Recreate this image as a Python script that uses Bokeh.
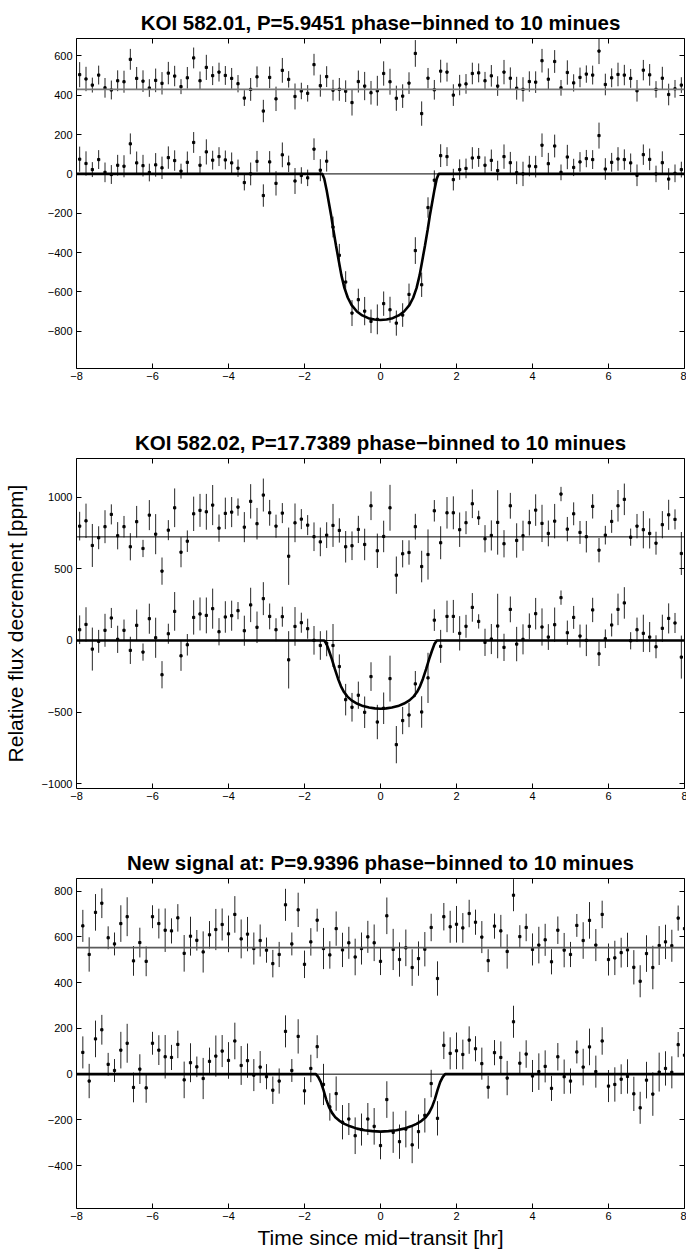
import numpy as np
from bokeh.plotting import figure
from bokeh.models import Range1d, LinearAxis, FixedTicker, Span, ColumnDataSource
from bokeh.layouts import column
from bokeh.embed import file_html
from bokeh.resources import INLINE

FONT = "Liberation Sans"
BIN_HR = 10.0 / 60.0  # 10-minute phase bins

# ---------------- Panel 1: KOI 582.01 ----------------
title1 = "KOI 582.01, P=5.9451 phase\u2212binned to 10 minues"
start1 = -8 + BIN_HR / 2
flux1 = [75, 53, 22, 73, 8, -3, 44, 39, 153, 56,
         42, 7, 46, 31, 83, 68, 14, 59, 160, 44,
         112, 70, 88, 71, 56, 29, -44, 0, 64, -110,
         61, -48, 97, 51, -36, -8, -20, 126, 19, 65,
         -270, -414, -550, -708, -640, -698, -750, -740, -660, -691,
         -759, -718, -613, -390, -564, -171, -32, 93, 88, -29,
         22, 28, 81, 84, 44, 69, 17, 88, 57, 6,
         0, 40, 37, 146, 52, 142, 8, 86, 33, 61,
         78, 73, 195, 25, 59, 76, 73, 56, -7, 98,
         74, 0, 57, -26, 3, 22]
err1 = [64, 62, 38, 48, 50, 48, 53, 56, 53, 58,
        55, 45, 60, 57, 57, 52, 38, 55, 53, 47,
        64, 48, 48, 48, 53, 44, 40, 58, 53, 57,
        55, 62, 63, 42, 66, 42, 42, 55, 56, 53,
        53, 58, 55, 66, 56, 72, 60, 76, 62, 66,
        64, 60, 55, 68, 62, 52, 50, 58, 48, 55,
        52, 50, 55, 48, 45, 55, 50, 62, 55, 58,
        62, 52, 55, 60, 55, 58, 40, 62, 44, 50,
        44, 48, 66, 55, 48, 60, 52, 48, 55, 52,
        55, 42, 58, 55, 45, 40]
resid1_first = 40
resid1_in = [-4, 0, -9, -67, 40, 17, -17, -7, 81, 39, -45, -34, 32, 183, -123, 57, -2]
offset1 = 430
model1_t = [-8, -1.53, -1.48, -1.42, -1.36, -1.30, -1.24, -1.17, -1.10, -1.03, -0.95, -0.86,
            -0.76, -0.62, -0.48, -0.32, -0.16, 0, 0.16, 0.32, 0.48, 0.62, 0.76, 0.86, 0.95,
            1.03, 1.10, 1.17, 1.24, 1.30, 1.36, 1.42, 1.48, 1.53, 8]
model1_f = [0, 0, -25, -80, -145, -210, -285, -365, -440, -515, -580, -630,
            -668, -700, -720, -734, -741, -743, -741, -734, -720, -700, -668, -630, -580,
            -515, -440, -365, -285, -210, -145, -80, -25, 0, 0]
yrange1 = (-990, 689)
yticks1 = [-800, -600, -400, -200, 0, 200, 400, 600]

# ---------------- Panel 2: KOI 582.02 ----------------
title2 = "KOI 582.02, P=17.7389 phase\u2212binned to 10 minues"
start2 = -8 + BIN_HR / 2
flux2 = [75, 112, -60, -6, 71, 157, 8, 71, -69, 106,
         -81, 152, 19, -239, 47, 203, -107, -30, 161, 185,
         175, 222, 61, 164, 173, 208, 68, 248, 92, 292,
         168, 75, 166, -135, 98, 124, 82, 1, -35, -20,
         -35, -182, -413, -466, -382, -501, -252, -569, -473, -266,
         -727, -559, -520, -303, -499, -261, 142, -41, 168, 168,
         50, 99, 231, 133, -13, 10, 101, -48, 217, -25,
         8, 99, 187, 94, 24, 110, 299, 54, 161, 31,
         1, 213, -93, 12, 108, 217, 262, -2, 75, 50,
         24, -44, 85, 154, 122, -116]
err2 = [100, 120, 150, 80, 115, 70, 95, 75, 95, 110,
        60, 105, 140, 95, 70, 135, 105, 75, 120, 115,
        125, 140, 95, 110, 105, 60, 105, 120, 110, 115,
        90, 80, 70, 200, 135, 70, 70, 100, 100, 90,
        150, 85, 110, 100, 95, 110, 100, 120, 110, 160,
        130, 95, 85, 90, 110, 175, 75, 115, 110, 115,
        120, 80, 100, 50, 95, 105, 225, 95, 90, 120,
        105, 90, 110, 130, 90, 120, 50, 85, 80, 80,
        110, 85, 85, 65, 80, 110, 110, 60, 85, 130,
        105, 80, 95, 105, 70, 150]
resid2_first = 39
resid2_in = [12, 80, 45, -69, -62, 52, -53, 217, -97, 3, 203, -267, -118, -109, 71, -207, -123, 182]
offset2 = 723
model2_t = [-8, -1.48, -1.42, -1.35, -1.28, -1.20, -1.12, -1.04, -0.96, -0.87, -0.76, -0.62,
            -0.46, -0.30, -0.15, 0, 0.15, 0.30, 0.46, 0.62, 0.76, 0.87, 0.96, 1.04, 1.12,
            1.20, 1.28, 1.35, 1.42, 1.48, 8]
model2_f = [0, 0, -25, -75, -130, -200, -265, -320, -360, -392, -418, -440,
            -458, -468, -474, -476, -474, -468, -458, -440, -418, -392, -360, -320, -265,
            -200, -130, -75, -25, 0, 0]
yrange2 = (-1033, 1270)
yticks2 = [-1000, -500, 0, 500, 1000]

# ---------------- Panel 3: new signal ----------------
title3 = "New signal at: P=9.9396 phase\u2212binned to 10 minues"
start3 = -8 + BIN_HR
flux3 = [95, -30, 154, 194, 43, 16, 105, 135, -58, 22,
         -60, 135, 105, 76, 73, 130, -25, 50, 32, -19,
         56, 79, 101, 60, 145, 38, 59, -4, 31, -11,
         -70, -30, 187, 16, 165, -73, 25, 120, -45, -143,
         -85, -210, -196, -269, -242, -196, -228, -312, -111, -254,
         -295, -240, -309, -251, -180, -41, -193, 126, 91, 102,
         86, 149, 111, 46, -57, 94, 73, -17, 229, 48,
         88, -8, 11, 34, -62, 76, -11, -30, 97, 31,
         119, 11, 145, -52, -45, -22, -10, -86, -147, -26,
         -87, 9, 25, 8, 129, 83]
err3 = [70, 75, 80, 65, 50, 50, 80, 85, 65, 65,
        65, 50, 65, 95, 55, 60, 80, 85, 45, 90,
        60, 90, 70, 80, 80, 85, 75, 70, 70, 55,
        60, 55, 70, 50, 75, 60, 60, 50, 90, 60,
        75, 75, 70, 80, 70, 70, 80, 60, 80, 90,
        75, 80, 80, 75, 75, 60, 75, 60, 70, 80,
        65, 60, 55, 70, 50, 55, 70, 75, 70, 50,
        60, 70, 80, 70, 55, 60, 75, 55, 50, 80,
        80, 70, 60, 70, 75, 65, 75, 75, 70, 80,
        95, 85, 75, 70, 55, 75]
resid3_first = 38
resid3_in = [-4, -32, 83, -10, 21, -41, -4, 47, 21, -60, 139, -8, -52, -1, -87, -48, -7, 88, -135, 135]
offset3 = 553
model3_t = [-8, -1.70, -1.64, -1.57, -1.50, -1.43, -1.36, -1.28, -1.19, -1.08, -0.95, -0.80,
            -0.62, -0.42, -0.21, 0, 0.21, 0.42, 0.62, 0.80, 0.95, 1.08, 1.19, 1.28, 1.36,
            1.43, 1.50, 1.57, 1.64, 1.70, 8]
model3_f = [0, 0, -12, -35, -70, -110, -142, -168, -188, -204, -217, -228,
            -238, -245, -249, -251, -249, -245, -238, -228, -217, -204, -188, -168, -142,
            -110, -70, -35, -12, 0, 0]
yrange3 = (-587, 855)
yticks3 = [-400, -200, 0, 200, 400, 600, 800]

xticks = [-8, -6, -4, -2, 0, 2, 4, 6, 8]
xlabel = "Time since mid\u2212transit [hr]"
ylabel = "Relative flux decrement [ppm]"


def lab(v):
    return ("\u2212" + str(abs(v))) if v < 0 else str(v)


def style_axis(ax, ticks, show_labels):
    ax.ticker = FixedTicker(ticks=ticks)
    ax.major_tick_in = 5
    ax.major_tick_out = 0
    ax.minor_tick_line_color = None
    ax.axis_line_color = "black"
    ax.axis_line_width = 1
    ax.major_tick_line_color = "black"
    ax.major_tick_line_width = 1
    if show_labels:
        ax.major_label_overrides = {v: lab(v) for v in ticks}
        ax.major_label_text_font = FONT
        ax.major_label_text_font_size = "11px"
        ax.major_label_text_color = "black"
    else:
        # box-side axis: ticks only, labels not painted
        ax.major_label_text_font_size = "1px"
        ax.major_label_text_color = None
        ax.major_label_standoff = 0


def make_panel(title, start, flux, err, rfirst, rin, offset, mt, mf, yr, yt,
               off_color, off_width, bottom, xl=None, yl=None):
    t = start + BIN_HR * np.arange(len(flux))
    flux = np.array(flux, dtype=float)
    err = np.array(err, dtype=float)
    resid = flux.copy()
    resid[rfirst:rfirst + len(rin)] = rin
    top = resid + offset

    p = figure(frame_width=608, frame_height=330, min_border_left=75, min_border_right=3,
               min_border_top=38, min_border_bottom=bottom,
               x_range=Range1d(-8, 8), y_range=Range1d(*yr),
               output_backend="svg", toolbar_location=None,
               background_fill_color="white", border_fill_color="white",
               outline_line_color=None)
    p.title.text = title
    p.title.align = "center"
    p.title.text_font = FONT
    p.title.text_font_size = "20.5px"
    p.title.text_font_style = "bold"
    p.title.text_color = "black"
    p.title.standoff = 10
    p.xgrid.grid_line_color = None
    p.ygrid.grid_line_color = None

    bx = p.below[0]
    ly = p.left[0]
    style_axis(bx, xticks, True)
    bx.major_label_standoff = 3
    style_axis(ly, yt, True)
    ly.major_label_standoff = 4
    top_ax = LinearAxis()
    right_ax = LinearAxis()
    style_axis(top_ax, xticks, False)
    style_axis(right_ax, yt, False)
    p.add_layout(top_ax, "above")
    p.add_layout(right_ax, "right")

    if xl:
        bx.axis_label = xl
        bx.axis_label_text_font = FONT
        bx.axis_label_text_font_size = "21px"
        bx.axis_label_text_font_style = "normal"
        bx.axis_label_text_color = "black"
        bx.axis_label_standoff = 3
    if yl:
        ly.axis_label = yl
        ly.axis_label_text_font = FONT
        ly.axis_label_text_font_size = "21px"
        ly.axis_label_text_font_style = "normal"
        ly.axis_label_text_color = "black"
        ly.axis_label_standoff = 12

    p.add_layout(Span(location=0, dimension="width", line_color="black", line_width=1))
    p.add_layout(Span(location=offset, dimension="width", line_color=off_color, line_width=off_width))

    src = ColumnDataSource(dict(t=t, y=flux, lo=flux - err, hi=flux + err,
                                yt=top, tlo=top - err, thi=top + err))
    p.segment(x0="t", y0="lo", x1="t", y1="hi", source=src, line_color="#262626", line_width=1)
    p.segment(x0="t", y0="tlo", x1="t", y1="thi", source=src, line_color="#262626", line_width=1)
    p.line(mt, mf, line_color="black", line_width=2.6)
    p.scatter("t", "y", source=src, marker="square", size=2.2, color="black")
    p.scatter("t", "yt", source=src, marker="square", size=2.2, color="black")
    return p


p1 = make_panel(title1, start1, flux1, err1, resid1_first, resid1_in, offset1,
                model1_t, model1_f, yrange1, yticks1, "#7a7a7a", 1.8, 52)
p2 = make_panel(title2, start2, flux2, err2, resid2_first, resid2_in, offset2,
                model2_t, model2_f, yrange2, yticks2, "black", 1, 52, yl=ylabel)
p3 = make_panel(title3, start3, flux3, err3, resid3_first, resid3_in, offset3,
                model3_t, model3_f, yrange3, yticks3, "#5a5a5a", 1.6, 46, xl=xlabel)

layout = column(p1, p2, p3, spacing=0)
open("out.html", "w").write(file_html(layout, INLINE))
